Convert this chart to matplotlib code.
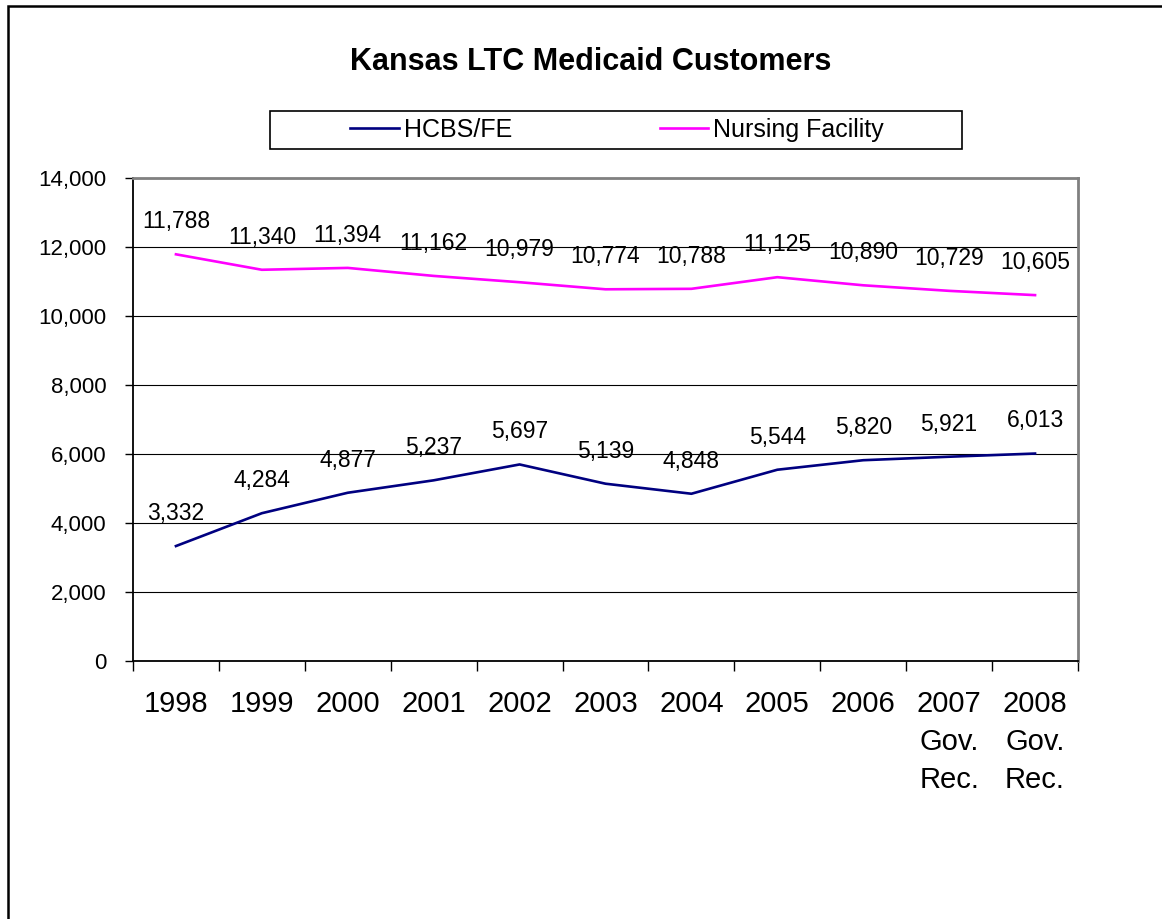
import matplotlib
matplotlib.use("Agg")
import matplotlib.pyplot as plt
from matplotlib.patches import Rectangle
from matplotlib.ticker import FuncFormatter

plt.rcParams['font.family'] = ['Liberation Sans', 'DejaVu Sans']

categories = ["1998", "1999", "2000", "2001", "2002", "2003", "2004", "2005", "2006",
              "2007\nGov.\nRec.", "2008\nGov.\nRec."]
hcbs_fe = [3332, 4284, 4877, 5237, 5697, 5139, 4848, 5544, 5820, 5921, 6013]
nursing_facility = [11788, 11340, 11394, 11162, 10979, 10774, 10788, 11125, 10890, 10729, 10605]
series_names = ["HCBS/FE", "Nursing Facility"]
title = "Kansas LTC Medicaid Customers"
y_ticks = [0, 2000, 4000, 6000, 8000, 10000, 12000, 14000]

W, H = 1162, 919
fig = plt.figure(figsize=(W / 100, H / 100), dpi=100)

def fx(px):
    return px / W

def fy(py):
    return 1 - py / H

# outer border (extends past right/bottom edges)
fig.patches.append(Rectangle((fx(8), -0.05), 1.2, fy(6) + 0.05, transform=fig.transFigure,
                             fill=False, edgecolor='black', linewidth=1.8, zorder=0))

ax = fig.add_axes([fx(133), fy(661), fx(1078) - fx(133), fy(178) - fy(661)])
x = list(range(len(categories)))

l1, = ax.plot(x, hcbs_fe, color='#000080', linewidth=1.9, label=series_names[0], zorder=3)
l2, = ax.plot(x, nursing_facility, color='#FF00FF', linewidth=1.9, label=series_names[1], zorder=3)

for xi, v in zip(x, hcbs_fe):
    ax.annotate(f"{v:,}", (xi, v), xytext=(0, 23.5), textcoords='offset points',
                ha='center', va='center', fontsize=16.5, color='black', zorder=4)
for xi, v in zip(x, nursing_facility):
    ax.annotate(f"{v:,}", (xi, v), xytext=(0, 23.5), textcoords='offset points',
                ha='center', va='center', fontsize=16.5, color='black', zorder=4)

ax.set_xlim(-0.5, len(categories) - 0.5)
ax.set_ylim(0, 14000)
ax.set_yticks(y_ticks)
ax.yaxis.set_major_formatter(FuncFormatter(lambda v, p: f"{int(v):,}"))
ax.tick_params(axis='y', direction='out', length=6, width=1, pad=13, labelsize=16, color='black')

ax.set_xticks([i - 0.5 for i in range(len(categories) + 1)])
ax.set_xticklabels([])
ax.set_xticks(x, minor=True)
ax.set_xticklabels(categories, minor=True, fontsize=21, linespacing=1.45, ha='center')
ax.tick_params(axis='x', which='major', direction='out', length=7, width=1, color='black')
ax.tick_params(axis='x', which='minor', length=0, pad=21)

ax.grid(axis='y', color='black', linewidth=0.8, zorder=1)
ax.set_axisbelow(True)
for s in ['left', 'bottom']:
    ax.spines[s].set_color('black')
    ax.spines[s].set_linewidth(1.3)
for s in ['top', 'right']:
    ax.spines[s].set_color('#808080')
    ax.spines[s].set_linewidth(2)

fig.text(fx(591), fy(62), title, ha='center', va='center', fontsize=22, fontweight='bold')

# legend frame
fig.patches.append(Rectangle((fx(270), fy(149)), fx(962) - fx(270), fy(111) - fy(149),
                             transform=fig.transFigure, fill=False, edgecolor='black',
                             linewidth=1.2, zorder=0))
fig.legend(handles=[l1, l2], loc='center', bbox_to_anchor=(fx(617), fy(130)),
           ncol=2, frameon=False, fontsize=18, handlelength=1.95, handletextpad=0.2,
           columnspacing=5.9, borderpad=0.2)

fig.savefig("out.png", dpi=100)
